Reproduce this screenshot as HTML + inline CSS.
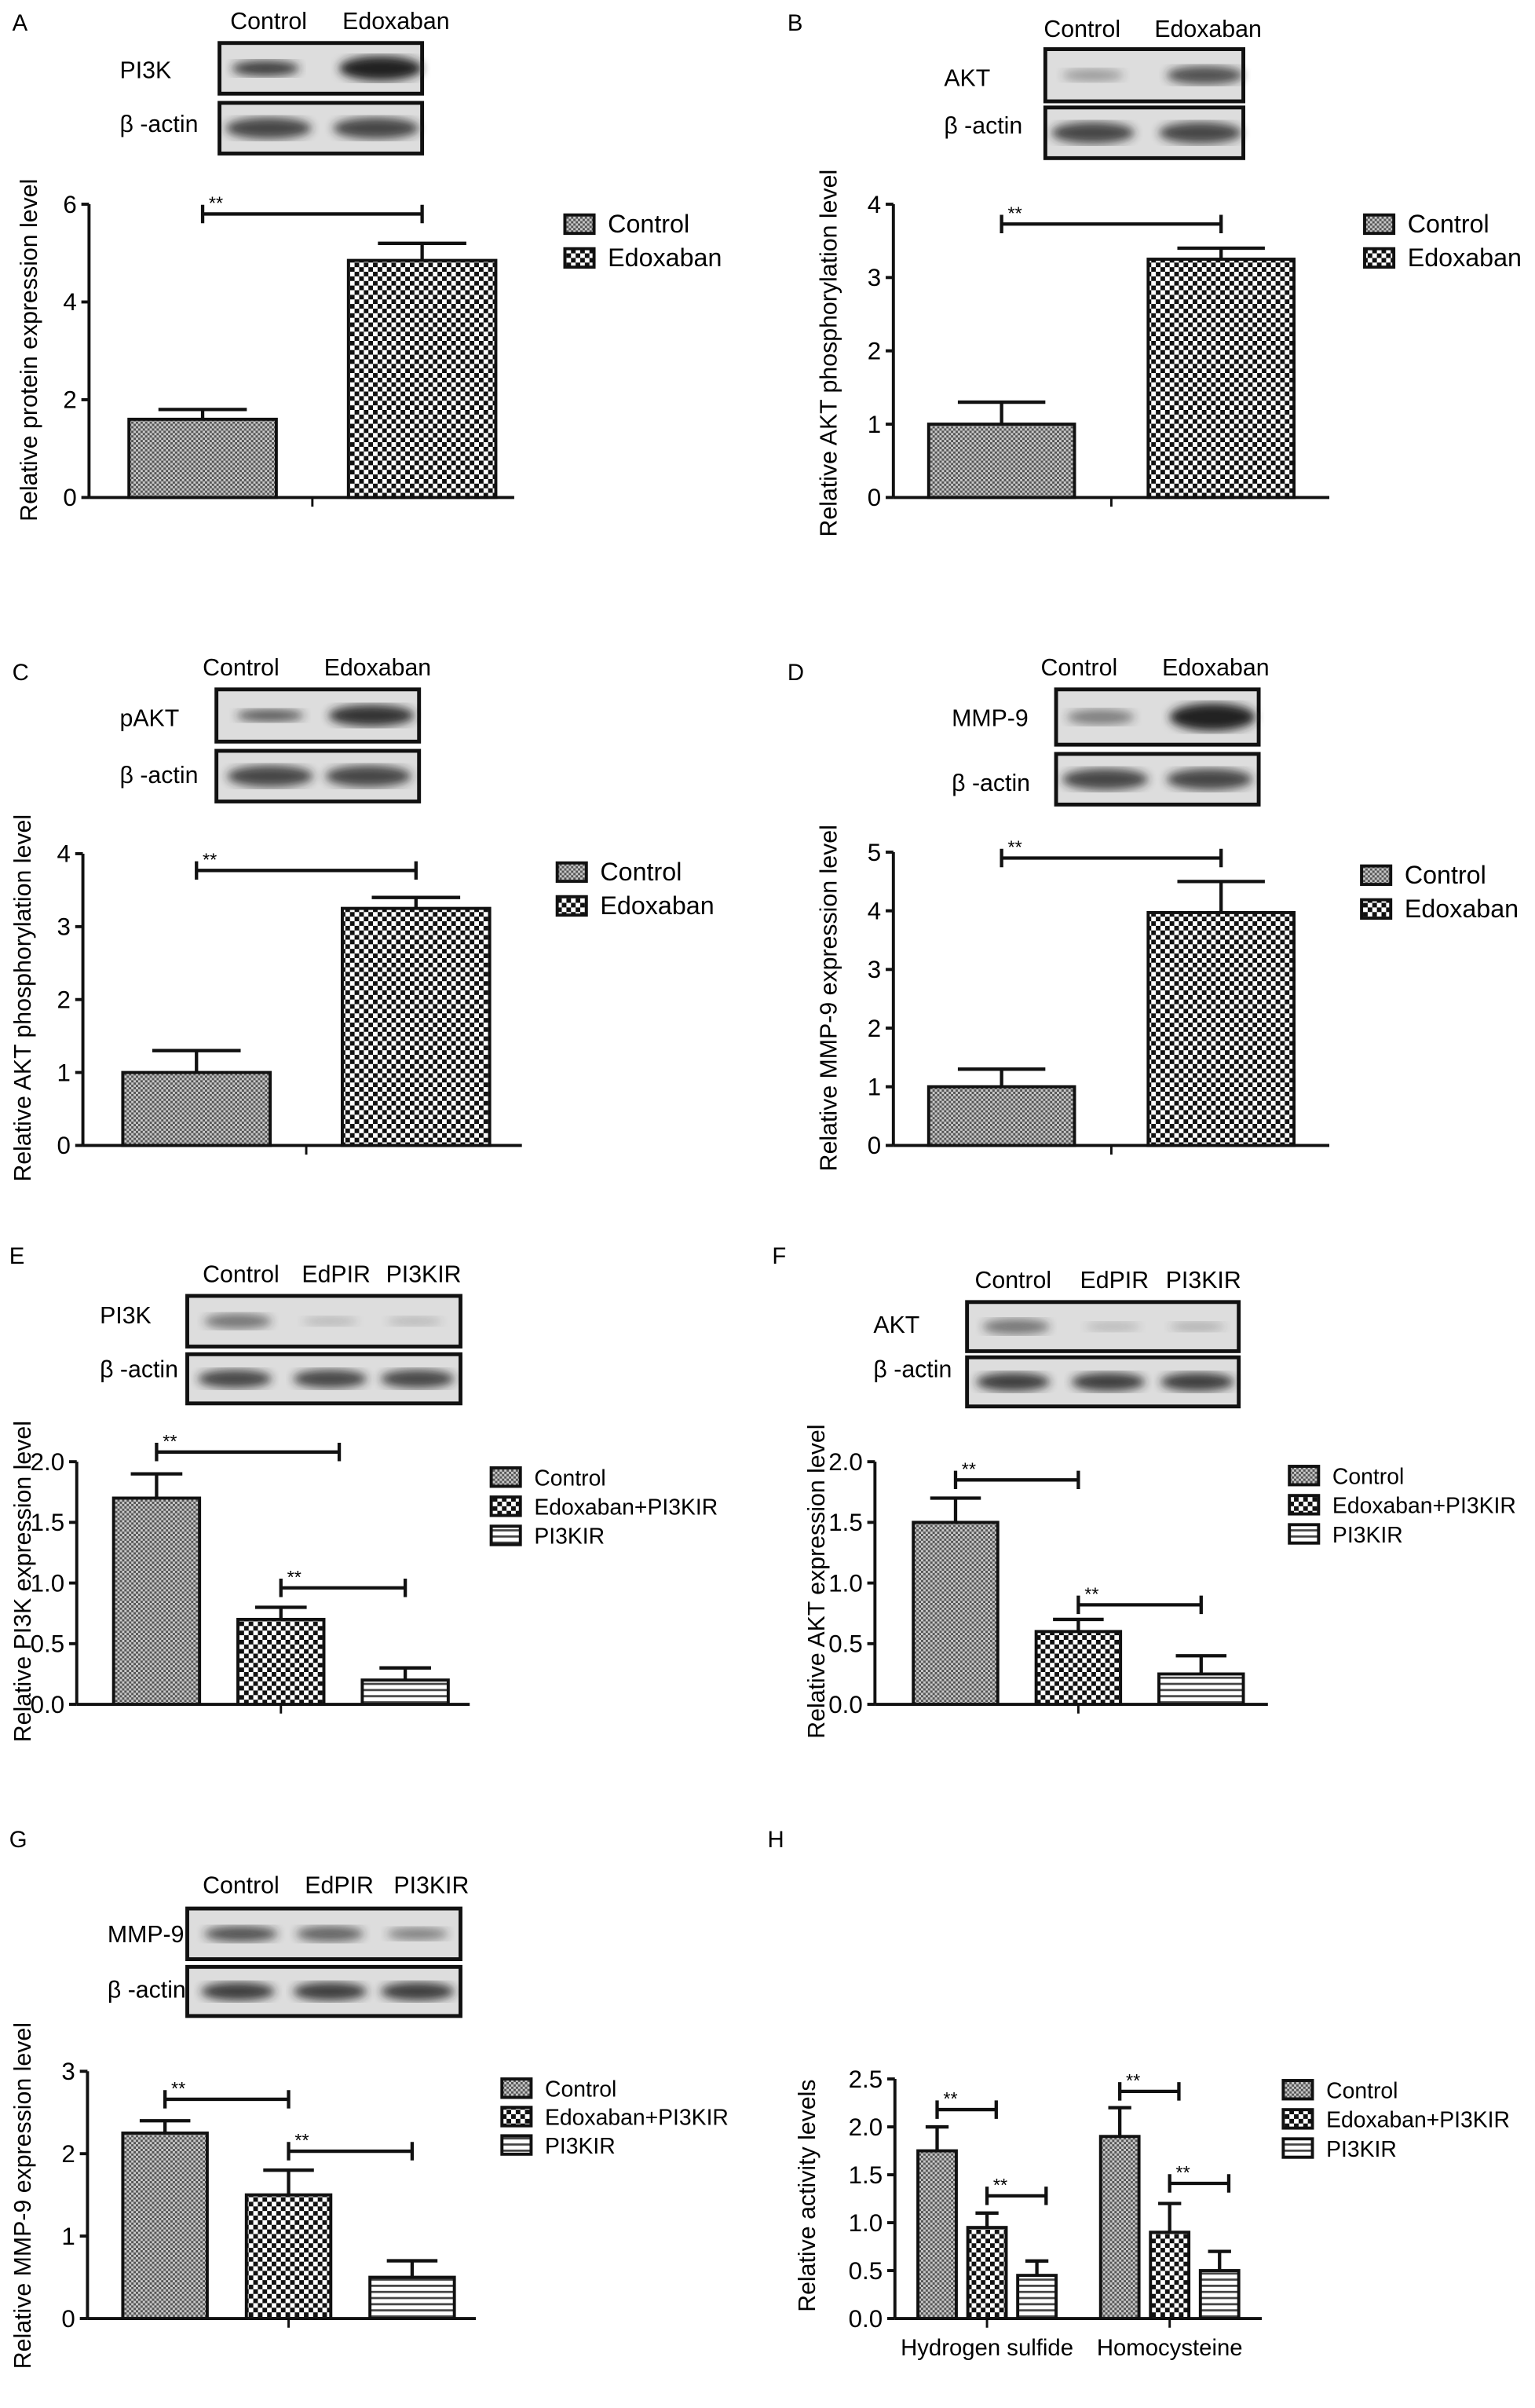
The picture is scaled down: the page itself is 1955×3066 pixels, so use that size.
<!DOCTYPE html>
<html><head><meta charset="utf-8">
<style>
html,body{margin:0;padding:0;background:#fff;}
svg{display:block;font-family:"Liberation Sans",Arial,sans-serif;}
</style></head>
<body>
<svg id="fig" width="1955" height="3066" viewBox="0 0 1000 1568.3" preserveAspectRatio="none" xmlns="http://www.w3.org/2000/svg">
<defs>
<pattern id="pCtrl" width="3" height="3" patternUnits="userSpaceOnUse">
<rect width="3" height="3" fill="#c8c8c8"/><rect width="1.5" height="1.5" fill="#555"/><rect x="1.5" y="1.5" width="1.5" height="1.5" fill="#555"/></pattern>
<pattern id="pEdo" width="6" height="6" patternUnits="userSpaceOnUse">
<rect width="6" height="6" fill="#fff"/><rect width="3" height="3" fill="#111"/><rect x="3" y="3" width="3" height="3" fill="#111"/></pattern>
<pattern id="pPI" width="4" height="4" patternUnits="userSpaceOnUse">
<rect width="4" height="4" fill="#fff"/><rect y="0" width="4" height="1.4" fill="#444"/></pattern>
<filter id="blur"><feGaussianBlur stdDeviation="3"/></filter>
</defs>
<g id="root"></g>
</svg>
<script>
// ---- data ----
const catsAD = ["Control","Edoxaban"];
const cats3 = ["Control","Edoxaban+PI3KIR","PI3KIR"];
const groupsH = ["Hydrogen sulfide","Homocysteine"];
const valsA = [1.6, 4.85];  const errA = [1.8, 5.2];
const valsB = [1.0, 3.25];  const errB = [1.3, 3.4];
const valsC = [1.0, 3.25];  const errC = [1.3, 3.4];
const valsD = [1.0, 3.97];  const errD = [1.3, 4.5];
const valsE = [1.7, 0.7, 0.2]; const errE = [1.9, 0.8, 0.3];
const valsF = [1.5, 0.6, 0.25]; const errF = [1.7, 0.7, 0.4];
const valsG = [2.25, 1.5, 0.5]; const errG = [2.4, 1.8, 0.7];
const valsH1 = [1.75, 0.95, 0.45]; const errH1 = [2.0, 1.1, 0.6];
const valsH2 = [1.9, 0.9, 0.5];  const errH2 = [2.2, 1.2, 0.7];
const ticksA = ["0","2","4","6"];
const ticksB = ["0","1","2","3","4"];
const ticksD = ["0","1","2","3","4","5"];
const ticks2 = ["0.0","0.5","1.0","1.5","2.0"];
const ticksG = ["0","1","2","3"];
const ticksH = ["0.0","0.5","1.0","1.5","2.0","2.5"];
const tickValsA=[0,2,4,6], tickValsB=[0,1,2,3,4], tickValsD=[0,1,2,3,4,5], tickVals2=[0,0.5,1,1.5,2], tickValsG=[0,1,2,3], tickValsH=[0,0.5,1,1.5,2,2.5];

const NS="http://www.w3.org/2000/svg";
const root=document.getElementById('root');
function mk(tag,attrs,parent,text){const e=document.createElementNS(NS,tag);for(const k in attrs)e.setAttribute(k,attrs[k]);if(text!==undefined)e.textContent=text;(parent||root).appendChild(e);return e;}
const fills=["url(#pCtrl)","url(#pEdo)","url(#pPI)"];

function blot(g,box,bands){
  const r=mk('rect',{x:box[0],y:box[1],width:box[2],height:box[3],fill:'#ddd',stroke:'#111','stroke-width':2.5},g);
  
  
  bands.forEach(b=>{const e=mk('ellipse',{cx:b[0],cy:box[1]+box[3]/2,rx:b[1],ry:b[2],fill:'#222',opacity:b[3],filter:'url(#blur)'},g);
    
    });
}

function panel(p){
  const g=mk('g',{},root);
  
  
  const lab=mk('text',{x:p.letter[0],y:p.letter[1],'font-size':15},g,p.id);
  
  
  p.headers.forEach(h=>{const t=mk('text',{x:h[1],y:h[2],'font-size':15.5,'text-anchor':'middle'},g,h[0]);
    
    });
  p.blots.forEach(b=>{const t=mk('text',{x:b.lx,y:b.ly,'font-size':15.5},g,b.label);
    
    
    blot(g,b.box,b.bands);});
  const y=v=>p.y0-v*(p.y0-p.yTop)/p.ymax;
  const ya=mk('line',{x1:p.ax,y1:y(p.ymax),x2:p.ax,y2:p.y0,stroke:'#111','stroke-width':2},g);
  
  
  const xa=mk('line',{x1:p.ax,y1:p.y0,x2:p.axEnd,y2:p.y0,stroke:'#111','stroke-width':2},g);
  
  
  p.tickVals.forEach((v,i)=>{
    mk('line',{x1:p.ax-5,y1:y(v),x2:p.ax,y2:y(v),stroke:'#111','stroke-width':2},g);
    const t=mk('text',{x:p.ax-8,y:y(v)+5.5,'font-size':16,'text-anchor':'end'},g,p.tickLabels[i]);
    
    
  });
  const yl=mk('text',{x:0,y:0,'font-size':15.5,'text-anchor':'middle',transform:`translate(${p.ylx},${p.yly}) rotate(-90)`},g,p.ylabel);
  
  
  const centers=[];
  p.groups.forEach((grp,gi)=>{
    const gx=p.x0+gi*p.groupStep;
    grp.vals.forEach((v,i)=>{
      const bx=gx+i*p.step, cx=bx+p.bw/2; centers.push(cx);
      const r=mk('rect',{x:bx,y:y(v),width:p.bw,height:p.y0-y(v),fill:fills[i],stroke:'#111','stroke-width':2},g);
      
      
      const e=grp.err[i];
      const el=mk('path',{d:`M${cx},${y(v)}V${y(e)}M${cx-p.bw*0.3},${y(e)}H${cx+p.bw*0.3}`,stroke:'#111','stroke-width':2.2,fill:'none'},g);
      
      
    });
    const tx=gx+(grp.vals.length-1)*p.step/2+p.bw/2;
    mk('line',{x1:tx,y1:p.y0,x2:tx,y2:p.y0+6,stroke:'#111','stroke-width':1.5},g);
    if(p.catLabels){const t=mk('text',{x:tx,y:p.y0+24,'font-size':15,'text-anchor':'middle'},g,p.catLabels[gi]);
      
      }
  });
  p.sig.forEach(s=>{
    const x1=centers[s[0]], x2=centers[s[1]]+(s[3]||0), yy=y(s[2]);
    const b=mk('path',{d:`M${x1},${yy-6}V${yy+6}M${x1},${yy}H${x2}M${x2},${yy-6}V${yy+6}`,stroke:'#111','stroke-width':2.2,fill:'none'},g);
    
    
    const t=mk('text',{x:x1+4,y:yy-3,'font-size':12},g,'**');
    
    
  });
  p.legend.forEach((name,i)=>{
    const ly=p.leg[1]+i*p.legStep;
    const r=mk('rect',{x:p.leg[0],y:ly-6,width:19,height:12,fill:fills[i],stroke:'#111','stroke-width':2},g);
    
    
    const t=mk('text',{x:p.leg[0]+28,y:ly+5.5,'font-size':p.legFont},g,name);
    
    
  });
}

panel({id:'A',letter:[8,20],headers:[['Control',175,19],['Edoxaban',258,19]],
 blots:[{label:'PI3K',lx:78,ly:51,box:[143,28,132,33],bands:[[173,22,5,0.85],[248,27,8,1]]},
        {label:'β -actin',lx:78,ly:86,box:[143,67,132,33],bands:[[175,28,7,0.8],[245,28,7,0.8]]}],
 ax:58,axEnd:335,y0:324,yTop:133,ymax:6,tickVals:tickValsA,tickLabels:ticksA,
 ylabel:'Relative protein expression level',ylx:24,yly:228,
 groups:[{vals:valsA,err:errA}],x0:84,bw:96,step:143,groupStep:0,
 sig:[[0,1,5.8]],legend:catsAD,leg:[368,146],legStep:22,legFont:16.5});
panel({id:'B',letter:[513,20],headers:[['Control',705,24],['Edoxaban',787,24]],
 blots:[{label:'AKT',lx:615,ly:56,box:[681,32,129,34],bands:[[712,20,4,0.35],[785,25,6,0.75]]},
        {label:'β -actin',lx:615,ly:87,box:[681,70,129,33],bands:[[712,27,7,0.8],[782,27,7,0.8]]}],
 ax:582,axEnd:866,y0:324,yTop:133,ymax:4,tickVals:tickValsB,tickLabels:ticksB,
 ylabel:'Relative AKT phosphorylation level',ylx:545,yly:230,
 groups:[{vals:valsB,err:errB}],x0:605,bw:95,step:143,groupStep:0,
 sig:[[0,1,3.73]],legend:catsAD,leg:[889,146],legStep:22,legFont:16.5});
panel({id:'C',letter:[8,443],headers:[['Control',157,440],['Edoxaban',246,440]],
 blots:[{label:'pAKT',lx:78,ly:473,box:[141,449,132,34],bands:[[176,22,4,0.7],[242,28,7,0.9]]},
        {label:'β -actin',lx:78,ly:510,box:[141,489,132,33],bands:[[176,28,7,0.8],[240,28,7,0.8]]}],
 ax:54,axEnd:340,y0:746,yTop:556,ymax:4,tickVals:tickValsB,tickLabels:ticksB,
 ylabel:'Relative AKT phosphorylation level',ylx:20,yly:650,
 groups:[{vals:valsC,err:errC}],x0:80,bw:96,step:143,groupStep:0,
 sig:[[0,1,3.77]],legend:catsAD,leg:[363,568],legStep:22,legFont:16.5});
panel({id:'D',letter:[513,443],headers:[['Control',703,440],['Edoxaban',792,440]],
 blots:[{label:'MMP-9',lx:620,ly:473,box:[688,449,132,36],bands:[[717,22,5,0.5],[790,28,9,1]]},
        {label:'β -actin',lx:620,ly:515,box:[688,491,132,33],bands:[[720,28,7,0.8],[788,28,7,0.8]]}],
 ax:582,axEnd:866,y0:746,yTop:555,ymax:5,tickVals:tickValsD,tickLabels:ticksD,
 ylabel:'Relative MMP-9 expression level',ylx:545,yly:650,
 groups:[{vals:valsD,err:errD}],x0:605,bw:95,step:143,groupStep:0,
 sig:[[0,1,4.9]],legend:catsAD,leg:[887,570],legStep:22,legFont:16.5});
panel({id:'E',letter:[6,823],headers:[['Control',157,835],['EdPIR',219,835],['PI3KIR',276,835]],
 blots:[{label:'PI3K',lx:65,ly:862,box:[122,844,178,33],bands:[[155,22,5,0.55],[215,18,3,0.2],[270,18,3,0.2]]},
        {label:'β -actin',lx:65,ly:897,box:[122,882,178,32],bands:[[153,24,6,0.8],[215,24,6,0.8],[272,24,6,0.8]]}],
 ax:50,axEnd:306,y0:1110,yTop:952,ymax:2,tickVals:tickVals2,tickLabels:ticks2,
 ylabel:'Relative PI3K expression level',ylx:20,yly:1030,
 groups:[{vals:valsE,err:errE}],x0:74,bw:56,step:81,groupStep:0,
 sig:[[0,1,2.08,38],[1,2,0.96]],legend:cats3,leg:[320,962],legStep:19,legFont:14.5});
panel({id:'F',letter:[503,823],headers:[['Control',660,839],['EdPIR',726,839],['PI3KIR',784,839]],
 blots:[{label:'AKT',lx:569,ly:868,box:[630,848,177,32],bands:[[662,22,5,0.55],[725,18,3,0.2],[780,18,3,0.25]]},
        {label:'β -actin',lx:569,ly:897,box:[630,884,177,32],bands:[[660,24,6,0.85],[722,24,6,0.85],[780,24,6,0.85]]}],
 ax:570,axEnd:826,y0:1110,yTop:952,ymax:2,tickVals:tickVals2,tickLabels:ticks2,
 ylabel:'Relative AKT expression level',ylx:537,yly:1030,
 groups:[{vals:valsF,err:errF}],x0:595,bw:55,step:80,groupStep:0,
 sig:[[0,1,1.85],[1,2,0.82]],legend:cats3,leg:[840,961],legStep:19,legFont:14.5});
panel({id:'G',letter:[6,1203],headers:[['Control',157,1233],['EdPIR',221,1233],['PI3KIR',281,1233]],
 blots:[{label:'MMP-9',lx:70,ly:1265,box:[122,1243,178,33],bands:[[157,24,5,0.75],[215,22,5,0.65],[272,20,4,0.5]]},
        {label:'β -actin',lx:70,ly:1301,box:[122,1281,178,32],bands:[[155,24,6,0.85],[215,24,6,0.85],[272,24,6,0.85]]}],
 ax:57,axEnd:310,y0:1510,yTop:1349,ymax:3,tickVals:tickValsG,tickLabels:ticksG,
 ylabel:'Relative MMP-9 expression level',ylx:20,yly:1430,
 groups:[{vals:valsG,err:errG}],x0:80,bw:55,step:80.5,groupStep:0,
 sig:[[0,1,2.66],[1,2,2.03]],legend:cats3,leg:[327,1360],legStep:18.5,legFont:14.5});
panel({id:'H',letter:[500,1203],headers:[],blots:[],
 ax:583,axEnd:822,y0:1510,yTop:1354,ymax:2.5,tickVals:tickValsH,tickLabels:ticksH,
 ylabel:'Relative activity levels',ylx:531,yly:1430,
 groups:[{vals:valsH1,err:errH1},{vals:valsH2,err:errH2}],catLabels:groupsH,x0:598,bw:25,step:32.5,groupStep:119,
 sig:[[0,1,2.18,6],[1,2,1.28,6],[3,4,2.37,6],[4,5,1.41,6]],legend:cats3,leg:[836,1361],legStep:19,legFont:14.5});
</script>
</body></html>
